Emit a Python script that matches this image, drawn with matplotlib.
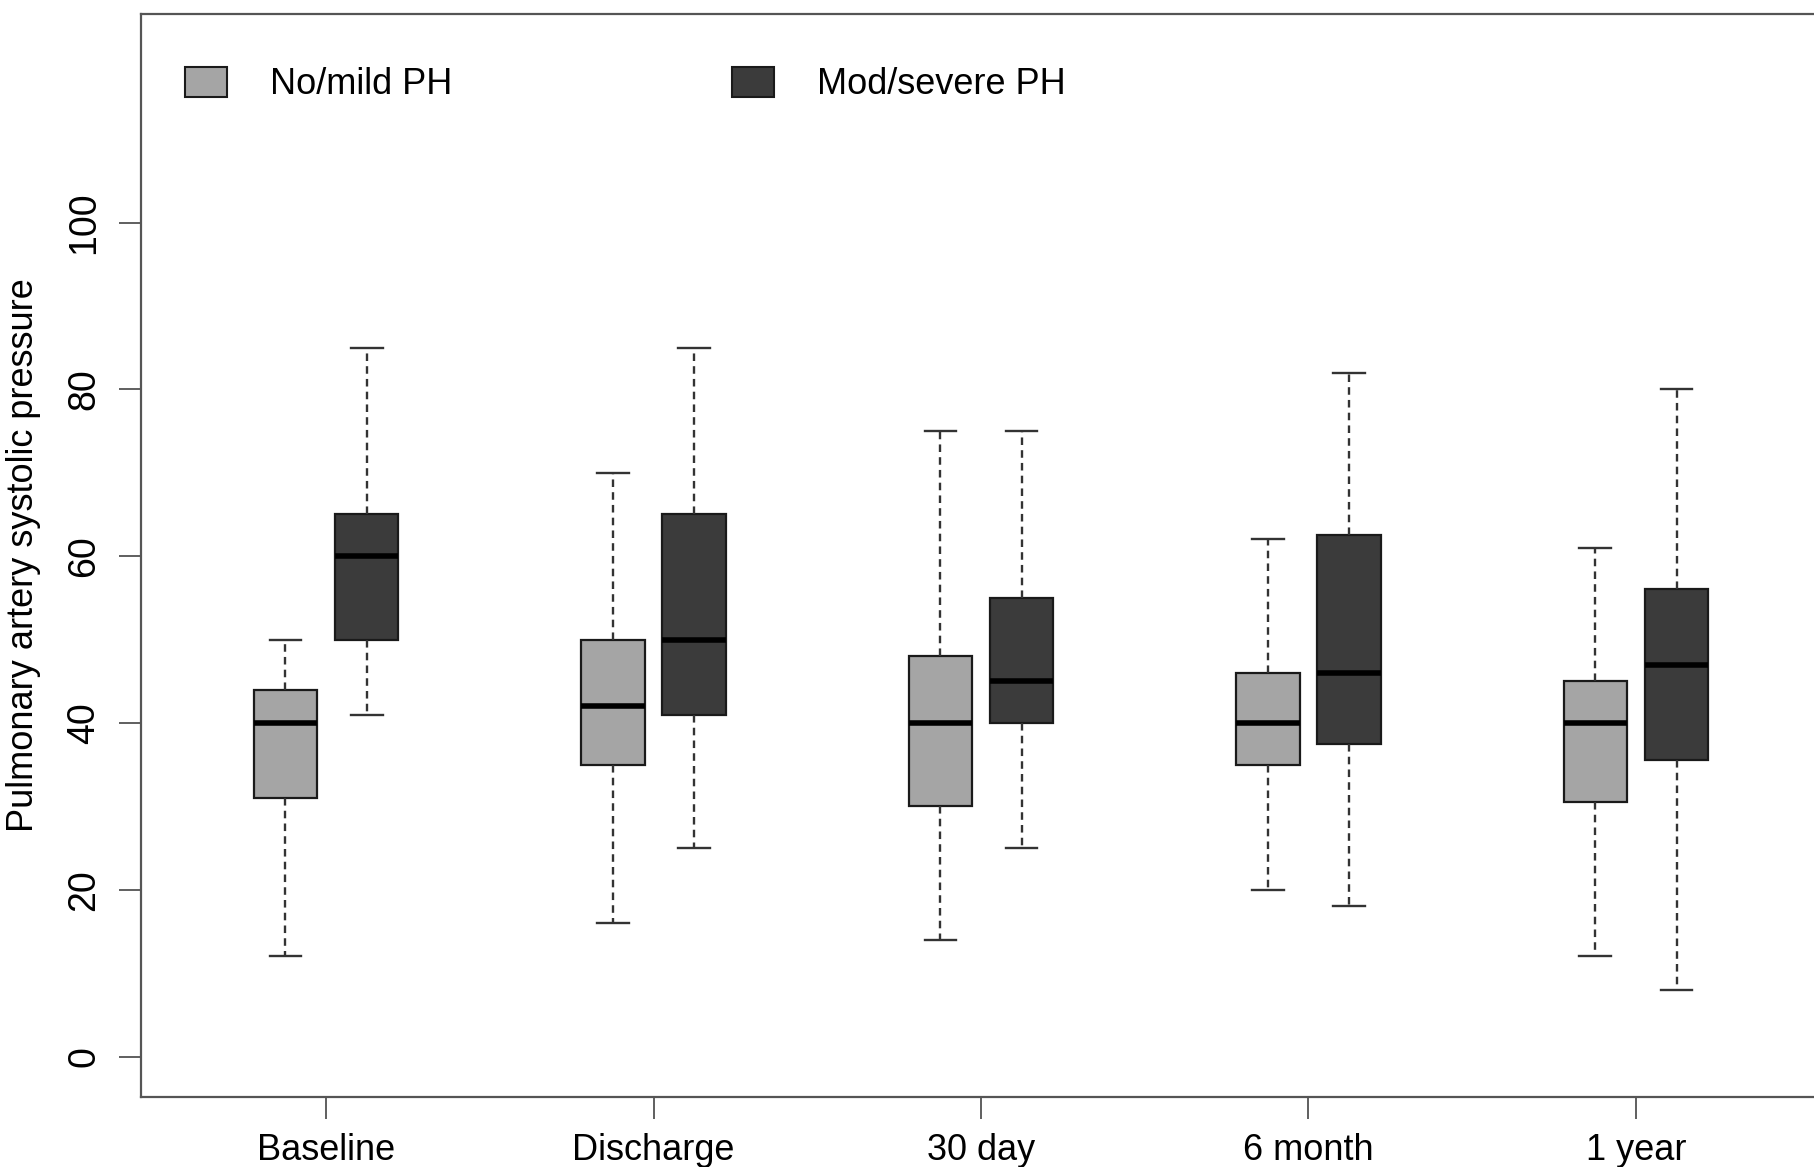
import matplotlib
matplotlib.use("Agg")
import matplotlib.pyplot as plt
from matplotlib.patches import Patch

plt.rcParams['font.family'] = ['Liberation Sans', 'DejaVu Sans']

# Time points and group labels
timepoints = ["Baseline", "Discharge", "30 day", "6 month", "1 year"]
groups = ["No/mild PH", "Mod/severe PH"]

# Five-number summaries per time point (whisker low, Q1, median, Q3, whisker high)
mild_low = [12, 16, 14, 20, 12]
mild_q1 = [31, 35, 30, 35, 30.5]
mild_med = [40, 42, 40, 40, 40]
mild_q3 = [44, 50, 48, 46, 45]
mild_high = [50, 70, 75, 62, 61]

severe_low = [41, 25, 25, 18, 8]
severe_q1 = [50, 41, 40, 37.5, 35.5]
severe_med = [60, 50, 45, 46, 47]
severe_q3 = [65, 65, 55, 62.5, 56]
severe_high = [85, 85, 75, 82, 80]

y_ticks = [0, 20, 40, 60, 80, 100]

colors = ["#a5a5a5", "#3b3b3b"]


def summaries(low, q1, med, q3, high):
    return [dict(whislo=a, q1=b, med=c, q3=d, whishi=e, fliers=[])
            for a, b, c, d, e in zip(low, q1, med, q3, high)]


fig = plt.figure(figsize=(18.14, 11.67), dpi=100)
ax = fig.add_axes([141 / 1814, 70 / 1167, 1680 / 1814, 1083 / 1167])

centers = list(range(1, len(timepoints) + 1))
offset = 0.124
width = 0.194

series = [summaries(mild_low, mild_q1, mild_med, mild_q3, mild_high),
          summaries(severe_low, severe_q1, severe_med, severe_q3, severe_high)]

for k, (stats, col) in enumerate(zip(series, colors)):
    pos = [c + (-offset if k == 0 else offset) for c in centers]
    ax.bxp(stats, positions=pos, widths=width, patch_artist=True,
           showfliers=False, manage_ticks=False,
           boxprops=dict(facecolor=col, edgecolor="#1a1a1a", linewidth=1.6),
           medianprops=dict(color="black", linewidth=4.0, solid_capstyle="butt"),
           whiskerprops=dict(color="#333333", linewidth=1.7, linestyle=(0, (3.2, 2.2))),
           capprops=dict(color="#333333", linewidth=1.7),
           capwidths=width / 2)

ax.set_xlim(0.435, 5.565)
ax.set_ylim(-4.85, 125)
ax.set_xticks(centers)
ax.set_xticklabels(timepoints, fontsize=26)
ax.set_yticks(y_ticks)
ax.set_yticklabels([str(v) for v in y_ticks], fontsize=27, rotation=90, va="center")
ax.tick_params(axis="both", direction="out", length=16, width=1.2, color="#444444")
ax.tick_params(axis="x", pad=10)
ax.tick_params(axis="y", pad=12)

for s in ax.spines.values():
    s.set_color("#555555")
    s.set_linewidth(1.6)

ax.set_ylabel("Pulmonary artery systolic pressure", fontsize=26, labelpad=18)

handles = [Patch(facecolor=c, edgecolor="#1a1a1a", linewidth=1.5) for c in colors]
ax.legend(handles, groups, ncol=2, frameon=False, fontsize=26,
          loc="center left", bbox_to_anchor=(185 / 1814, 1 - 84.5 / 1167),
          bbox_transform=fig.transFigure, borderpad=0, borderaxespad=0,
          handlelength=1.15, handleheight=0.9, handletextpad=1.2,
          columnspacing=7.75)

fig.savefig("out.png", dpi=100, facecolor="white")
